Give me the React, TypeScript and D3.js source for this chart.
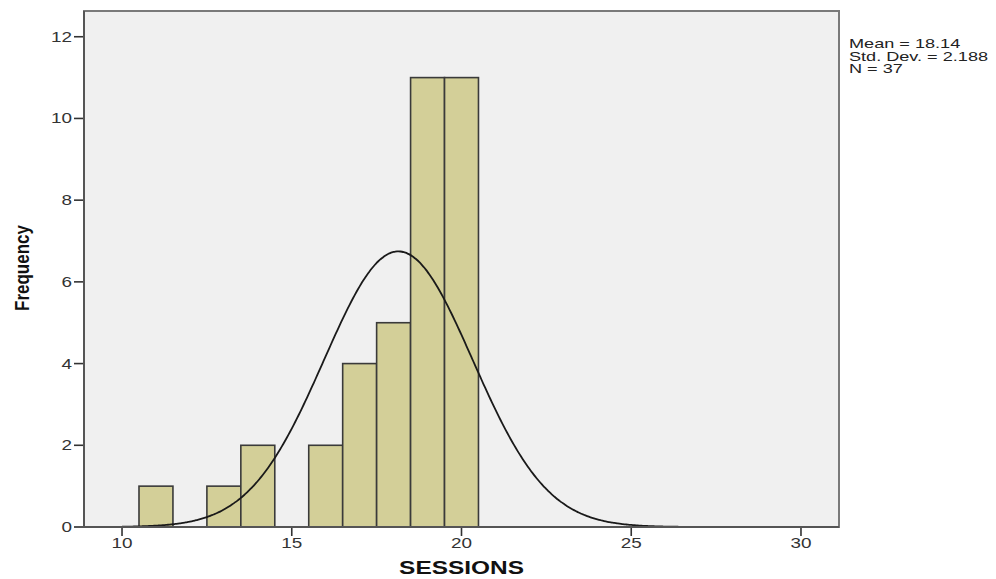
import * as d3 from "d3";

// histogram bins (width 1, centred on the integer)
const binCentres = [11, 13, 14, 16, 17, 18, 19, 20];
const binCounts = [1, 1, 2, 2, 4, 5, 11, 11];
const yTicks = [0, 2, 4, 6, 8, 10, 12];
const xTicks = [10, 15, 20, 25, 30];
const statLines = ["Mean = 18.14", "Std. Dev. = 2.188", "N = 37"];
const mean = 18.14;
const sd = 2.188;
const n = 37;

const W = 996;
const H = 579;
const left = 84;
const right = 839;
const top = 11;
const bottom = 527;
const sx = 1.35; // the picture is stretched sideways

export default function App() {
  const x = d3.scaleLinear().domain([8.88, 31.12]).range([left, right]);
  const y = d3.scaleLinear().domain([0, 12.63]).range([bottom, top]);

  const pdf = (v: number) =>
    (n / (sd * Math.sqrt(2 * Math.PI))) * Math.exp(-((v - mean) ** 2) / (2 * sd * sd));
  const curvePts = d3.range(10, 30.01, 0.05).map((v) => [v, pdf(v)] as [number, number]);
  const line = d3
    .line<[number, number]>()
    .x((d) => x(d[0]))
    .y((d) => y(d[1]))
    .curve(d3.curveBasis);

  const font = "'Liberation Sans', Arial, sans-serif";

  return (
    <svg
      width={W}
      height={H}
      style={{ position: "fixed", left: 0, top: 0, background: "#fff" }}
      fontFamily={font}
    >
      <rect x={left} y={top} width={right - left} height={bottom - top} fill="#f0f0f0" />

      {binCentres.map((c, i) => (
        <rect
          key={c}
          x={x(c - 0.5)}
          y={y(binCounts[i])}
          width={x(c + 0.5) - x(c - 0.5)}
          height={y(0) - y(binCounts[i])}
          fill="#d3cf98"
          stroke="#3a3a3a"
          strokeWidth={1.6}
        />
      ))}

      <path d={line(curvePts) ?? ""} fill="none" stroke="#1a1a1a" strokeWidth={1.8} />

      <rect
        x={left}
        y={top}
        width={right - left}
        height={bottom - top}
        fill="none"
        stroke="#7a7a7a"
        strokeWidth={2}
      />

      {/* y axis */}
      {yTicks.map((t) => (
        <g key={t}>
          <line x1={left - 10} x2={left} y1={y(t)} y2={y(t)} stroke="#333" strokeWidth={1.6} />
          <text
            transform={`translate(${left - 12},${y(t) + 5}) scale(${sx},1)`}
            textAnchor="end"
            fontSize={14}
            fill="#333"
          >
            {t}
          </text>
        </g>
      ))}
      <line x1={left} x2={left} y1={top} y2={bottom} stroke="#555" strokeWidth={2} />

      {/* x axis */}
      {xTicks.map((t) => (
        <g key={t}>
          <line x1={x(t)} x2={x(t)} y1={bottom} y2={bottom + 9} stroke="#333" strokeWidth={1.6} />
          <text
            transform={`translate(${x(t)},${bottom + 21}) scale(${sx},1)`}
            textAnchor="middle"
            fontSize={14}
            fill="#333"
          >
            {t}
          </text>
        </g>
      ))}
      <line x1={left - 10} x2={right} y1={bottom} y2={bottom} stroke="#555" strokeWidth={2} />

      <text
        transform={`translate(${(left + right) / 2},574) scale(1.32,1)`}
        textAnchor="middle"
        fontSize={18.5}
        fontWeight="bold"
        fill="#111"
      >
        SESSIONS
      </text>
      <text
        transform={`translate(29,268) scale(1.15,1) rotate(-90)`}
        textAnchor="middle"
        fontSize={17}
        fontWeight="bold"
        fill="#111"
      >
        Frequency
      </text>

      {statLines.map((s, i) => (
        <text
          key={s}
          transform={`translate(849,${48 + i * 12.5}) scale(1.45,1)`}
          fontSize={12.5}
          fill="#222"
        >
          {s}
        </text>
      ))}
    </svg>
  );
}
